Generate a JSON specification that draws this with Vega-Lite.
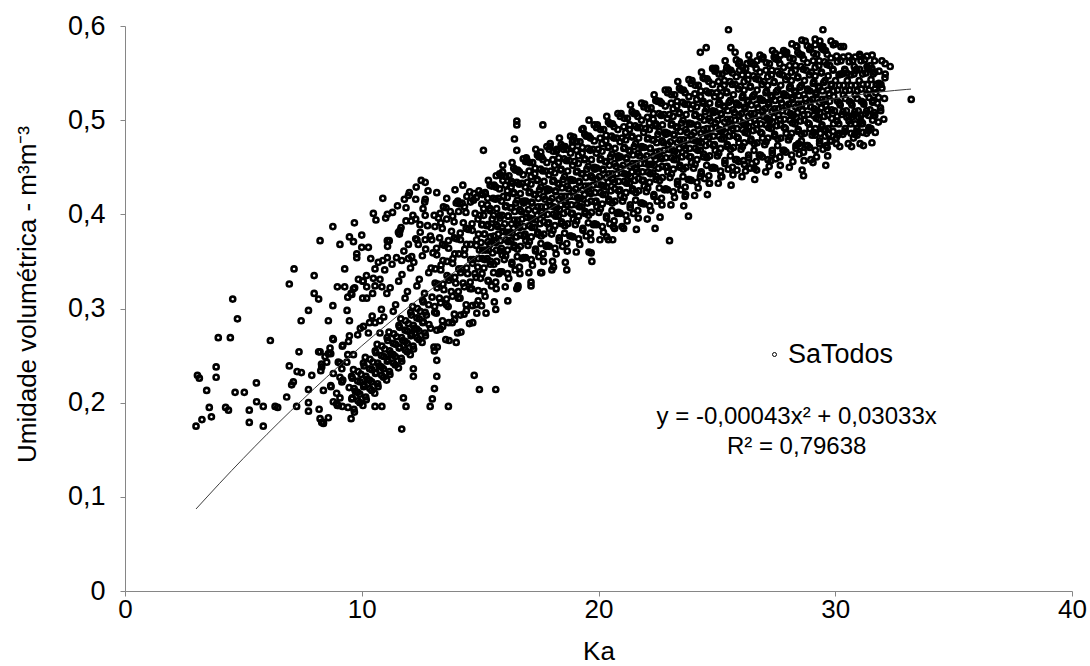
{
"$schema":"https://vega.github.io/schema/vega-lite/v6.json",
"width":947,"height":565,"autosize":"none",
"padding":{"left":125,"top":26,"right":18,"bottom":75},
"background":"white",
"config":{"view":{"stroke":null},"font":"Liberation Sans"},
"datasets":{
"fit":[{"ka":3,"u":0.0871},{"ka":4,"u":0.1144},{"ka":5,"u":0.1409},{"ka":6,"u":0.1665},{"ka":7,"u":0.1912},{"ka":8,"u":0.2151},{"ka":9,"u":0.2381},{"ka":10,"u":0.2603},{"ka":11,"u":0.2816},{"ka":12,"u":0.302},{"ka":13,"u":0.3216},{"ka":14,"u":0.3403},{"ka":15,"u":0.3582},{"ka":16,"u":0.3752},{"ka":17,"u":0.3913},{"ka":18,"u":0.4066},{"ka":19,"u":0.421},{"ka":20,"u":0.4346},{"ka":21,"u":0.4473},{"ka":22,"u":0.4591},{"ka":23,"u":0.4701},{"ka":24,"u":0.4802},{"ka":25,"u":0.4895},{"ka":26,"u":0.4979},{"ka":27,"u":0.5054},{"ka":28,"u":0.5121},{"ka":29,"u":0.5179},{"ka":30,"u":0.5229},{"ka":31,"u":0.527},{"ka":32,"u":0.5302},{"ka":33,"u":0.5326},{"ka":33.2,"u":0.533}],
"pts":[
{"ka":3.0,"u":0.175},{"ka":3.25,"u":0.182},{"ka":3.65,"u":0.185},{"ka":3.56,"u":0.195},{"ka":3.45,"u":0.213},{"ka":3.06,"u":0.229},{"ka":3.14,"u":0.226},{"ka":3.85,"u":0.238},{"ka":3.85,"u":0.227},{"ka":3.94,"u":0.269},{"ka":4.45,"u":0.269},{"ka":4.55,"u":0.31},{"ka":4.75,"u":0.289},{"ka":4.25,"u":0.195},{"ka":4.37,"u":0.192},{"ka":4.65,"u":0.211},{"ka":5.04,"u":0.211},{"ka":5.25,"u":0.192},{"ka":5.25,"u":0.179},{"ka":5.56,"u":0.201},{"ka":5.84,"u":0.196},{"ka":5.84,"u":0.175},{"ka":5.55,"u":0.221},{"ka":6.14,"u":0.266},{"ka":6.34,"u":0.196},{"ka":6.45,"u":0.195},{"ka":6.83,"u":0.206},{"ka":6.94,"u":0.326},{"ka":7.14,"u":0.342},{"ka":6.94,"u":0.239},{"ka":7.35,"u":0.254},{"ka":7.27,"u":0.233},{"ka":7.45,"u":0.232},{"ka":7.44,"u":0.287},{"ka":7.75,"u":0.298},{"ka":7.04,"u":0.219},{"ka":7.11,"u":0.222},{"ka":7.25,"u":0.196},{"ka":7.75,"u":0.214},{"ka":7.75,"u":0.2},{"ka":7.75,"u":0.191},{"ka":7.89,"u":0.229},{"ka":7.99,"u":0.335},{"ka":7.99,"u":0.316},{"ka":8.18,"u":0.31},{"ka":8.18,"u":0.254},{"ka":8.2,"u":0.193},{"ka":8.38,"u":0.213},{"ka":8.69,"u":0.218},{"ka":8.31,"u":0.179},{"ka":8.38,"u":0.179},{"ka":8.59,"u":0.184},{"ka":8.3,"u":0.241},{"ka":8.27,"u":0.234},{"ka":8.59,"u":0.287},{"ka":8.78,"u":0.303},{"ka":8.97,"u":0.323},{"ka":9.28,"u":0.323},{"ka":9.28,"u":0.342},{"ka":8.66,"u":0.258},{"ka":8.69,"u":0.252},{"ka":8.59,"u":0.252},{"ka":8.8,"u":0.267},{"ka":9.18,"u":0.26},{"ka":8.8,"u":0.201},{"ka":8.94,"u":0.199},{"ka":9.08,"u":0.205},{"ka":9.18,"u":0.196},{"ka":8.97,"u":0.197},{"ka":9.08,"u":0.242},{"ka":9.16,"u":0.236},{"ka":9.08,"u":0.227},{"ka":9.2,"u":0.224},{"ka":9.38,"u":0.298},{"ka":9.48,"u":0.287},{"ka":9.48,"u":0.271},
{"ka":8.78,"u":0.387},{"ka":8.24,"u":0.372},{"ka":9.08,"u":0.368},{"ka":9.48,"u":0.376},{"ka":9.65,"u":0.371},{"ka":9.69,"u":0.391},{"ka":9.79,"u":0.358},{"ka":9.79,"u":0.354},{"ka":10.0,"u":0.378},{"ka":10.0,"u":0.365},{"ka":10.28,"u":0.365},{"ka":10.38,"u":0.353},{"ka":10.49,"u":0.401},{"ka":10.6,"u":0.394},{"ka":10.89,"u":0.417},{"ka":11.08,"u":0.4},{"ka":11.08,"u":0.372},{"ka":10.89,"u":0.351},{"ka":11.08,"u":0.354},{"ka":9.65,"u":0.321},{"ka":9.41,"u":0.312},{"ka":9.55,"u":0.316},{"ka":9.86,"u":0.331},{"ka":10.04,"u":0.329},{"ka":10.21,"u":0.323},{"ka":10.04,"u":0.311},{"ka":10.21,"u":0.311},{"ka":10.49,"u":0.332},{"ka":10.56,"u":0.324},{"ka":10.77,"u":0.331},{"ka":10.85,"u":0.323},{"ka":10.46,"u":0.316},{"ka":8.78,"u":0.268},{"ka":9.2,"u":0.261},{"ka":10.07,"u":0.281},{"ka":10.28,"u":0.274},{"ka":10.56,"u":0.285},{"ka":10.77,"u":0.287},{"ka":10.77,"u":0.274},{"ka":8.24,"u":0.254},{"ka":8.45,"u":0.249},{"ka":8.52,"u":0.243},{"ka":8.31,"u":0.238},{"ka":9.41,"u":0.251},{"ka":9.65,"u":0.251},{"ka":9.01,"u":0.243},{"ka":9.37,"u":0.243},{"ka":8.8,"u":0.231},{"ka":8.7,"u":0.217},{"ka":9.16,"u":0.222},{"ka":8.94,"u":0.21},{"ka":9.01,"u":0.197},{"ka":8.24,"u":0.183},{"ka":8.38,"u":0.178},{"ka":10.56,"u":0.196},{"ka":10.85,"u":0.196},{"ka":11.69,"u":0.172},{"ka":11.76,"u":0.205},{"ka":11.87,"u":0.196},{"ka":12.18,"u":0.236},{"ka":12.18,"u":0.228},{"ka":12.89,"u":0.196},{"ka":12.98,"u":0.204},{"ka":13.07,"u":0.255},{"ka":13.17,"u":0.245},{"ka":13.17,"u":0.228},{"ka":13.07,"u":0.215},{"ka":13.66,"u":0.196},{"ka":13.99,"u":0.264},{"ka":14.75,"u":0.229},{"ka":14.97,"u":0.214},{"ka":15.66,"u":0.214},{"ka":14.86,"u":0.295},{"ka":15.25,"u":0.295},{"ka":15.66,"u":0.299},{"ka":16.17,"u":0.308},{"ka":16.59,"u":0.322},{"ka":17.15,"u":0.328},{"ka":17.15,"u":0.324},{"ka":17.56,"u":0.338},{"ka":18.1,"u":0.344},
{"ka":12.68,"u":0.434},{"ka":11.97,"u":0.42},{"ka":11.87,"u":0.407},{"ka":12.28,"u":0.416},{"ka":12.68,"u":0.416},{"ka":13.17,"u":0.423},{"ka":13.94,"u":0.426},{"ka":14.27,"u":0.431},{"ka":13.59,"u":0.417},{"ka":13.45,"u":0.408},{"ka":13.31,"u":0.401},{"ka":11.87,"u":0.393},{"ka":12.28,"u":0.395},{"ka":12.46,"u":0.389},{"ka":12.68,"u":0.399},{"ka":11.62,"u":0.383},{"ka":11.55,"u":0.381},{"ka":12.33,"u":0.373},{"ka":12.39,"u":0.368},{"ka":12.68,"u":0.373},{"ka":12.96,"u":0.373},{"ka":11.69,"u":0.351},{"ka":11.97,"u":0.353},{"ka":12.11,"u":0.355},{"ka":15.07,"u":0.422},{"ka":15.21,"u":0.423},{"ka":15.68,"u":0.441},{"ka":15.96,"u":0.452},{"ka":15.96,"u":0.436},{"ka":16.37,"u":0.433},{"ka":14.72,"u":0.415},{"ka":14.44,"u":0.419},{"ka":13.99,"u":0.412},{"ka":14.15,"u":0.411},
{"ka":16.55,"u":0.499},{"ka":16.55,"u":0.495},{"ka":17.65,"u":0.495},{"ka":19.6,"u":0.5},{"ka":16.45,"u":0.48},{"ka":16.55,"u":0.468},{"ka":15.14,"u":0.468},{"ka":17.56,"u":0.466},{"ka":17.96,"u":0.475},{"ka":18.24,"u":0.469},{"ka":18.52,"u":0.469},{"ka":18.9,"u":0.477},{"ka":18.9,"u":0.472},{"ka":19.3,"u":0.49},{"ka":16.97,"u":0.458},{"ka":16.55,"u":0.321},{"ka":18.03,"u":0.341},{"ka":18.66,"u":0.341},{"ka":19.72,"u":0.35},{"ka":19.69,"u":0.359},{"ka":20.35,"u":0.376},{"ka":20.42,"u":0.373},{"ka":20.63,"u":0.387},{"ka":20.99,"u":0.387},{"ka":22.39,"u":0.385},{"ka":23.0,"u":0.372},{"ka":23.8,"u":0.398},{"ka":23.66,"u":0.419},
{"ka":25.49,"u":0.596},{"ka":29.48,"u":0.596},{"ka":25.59,"u":0.577},{"ka":25.77,"u":0.572},{"ka":28.17,"u":0.581},{"ka":28.38,"u":0.578},{"ka":28.59,"u":0.585},{"ka":28.73,"u":0.584},{"ka":29.15,"u":0.586},{"ka":29.15,"u":0.58},{"ka":29.48,"u":0.578},{"ka":30.0,"u":0.581},{"ka":30.24,"u":0.578},{"ka":30.35,"u":0.578},{"ka":31.03,"u":0.57},{"ka":27.46,"u":0.571},{"ka":27.68,"u":0.569},{"ka":27.89,"u":0.572},{"ka":26.27,"u":0.56},{"ka":26.69,"u":0.563},{"ka":24.89,"u":0.554},{"ka":25.39,"u":0.552},{"ka":25.96,"u":0.553},{"ka":24.3,"u":0.572},{"ka":24.55,"u":0.577},{"ka":31.97,"u":0.563},{"ka":32.11,"u":0.56},{"ka":32.32,"u":0.557},{"ka":32.11,"u":0.549},{"ka":31.73,"u":0.538},{"ka":31.48,"u":0.558},{"ka":31.55,"u":0.555},{"ka":31.34,"u":0.557},{"ka":31.03,"u":0.554},{"ka":30.84,"u":0.553},{"ka":30.8,"u":0.557},{"ka":30.49,"u":0.55},{"ka":30.35,"u":0.55},{"ka":30.21,"u":0.549},{"ka":33.21,"u":0.522},{"ka":31.41,"u":0.505},{"ka":31.62,"u":0.505},{"ka":31.51,"u":0.491},{"ka":30.92,"u":0.484},{"ka":30.77,"u":0.481},{"ka":31.13,"u":0.496},{"ka":30.84,"u":0.496},{"ka":30.98,"u":0.503},{"ka":30.7,"u":0.503},{"ka":30.49,"u":0.503},{"ka":30.04,"u":0.481},{"ka":30.1,"u":0.484},{"ka":29.72,"u":0.485},{"ka":29.62,"u":0.473},{"ka":28.97,"u":0.458},{"ka":28.66,"u":0.441},{"ka":27.28,"u":0.457},{"ka":26.41,"u":0.449},{"ka":26.58,"u":0.449},{"ka":25.17,"u":0.44},{"ka":24.69,"u":0.433},{"ka":24.3,"u":0.44},{"ka":26.13,"u":0.457},{"ka":25.85,"u":0.447},{"ka":28.52,"u":0.472},{"ka":28.45,"u":0.475},{"ka":29.15,"u":0.484},{"ka":29.37,"u":0.486},
{"ka":9.55,"u":0.183},{"ka":9.42,"u":0.195},{"ka":9.6,"u":0.205},{"ka":9.47,"u":0.216},{"ka":9.57,"u":0.228},
{"ka":9.69,"u":0.19},{"ka":9.84,"u":0.202},{"ka":9.73,"u":0.212},{"ka":9.83,"u":0.223},{"ka":9.65,"u":0.235},
{"ka":10.05,"u":0.197},{"ka":9.92,"u":0.209},{"ka":10.1,"u":0.219},{"ka":9.97,"u":0.23},{"ka":10.07,"u":0.242},
{"ka":10.19,"u":0.203},{"ka":10.34,"u":0.215},{"ka":10.23,"u":0.225},{"ka":10.33,"u":0.236},{"ka":10.15,"u":0.248},
{"ka":10.55,"u":0.21},{"ka":10.42,"u":0.222},{"ka":10.6,"u":0.232},{"ka":10.47,"u":0.243},{"ka":10.57,"u":0.255},
{"ka":10.69,"u":0.217},{"ka":10.84,"u":0.229},{"ka":10.73,"u":0.239},{"ka":10.83,"u":0.25},{"ka":10.65,"u":0.262},
{"ka":11.05,"u":0.224},{"ka":10.92,"u":0.236},{"ka":11.1,"u":0.246},{"ka":10.97,"u":0.257},{"ka":11.07,"u":0.269},
{"ka":11.19,"u":0.23},{"ka":11.34,"u":0.242},{"ka":11.23,"u":0.252},{"ka":11.33,"u":0.263},{"ka":11.15,"u":0.275},
{"ka":11.55,"u":0.237},{"ka":11.42,"u":0.249},{"ka":11.6,"u":0.259},{"ka":11.47,"u":0.27},{"ka":11.57,"u":0.282},
{"ka":11.69,"u":0.244},{"ka":11.84,"u":0.256},{"ka":11.73,"u":0.266},{"ka":11.83,"u":0.277},{"ka":11.65,"u":0.289},
{"ka":12.05,"u":0.251},{"ka":11.92,"u":0.263},{"ka":12.1,"u":0.273},{"ka":11.97,"u":0.284},{"ka":12.07,"u":0.296},
{"ka":12.19,"u":0.257},{"ka":12.34,"u":0.269},{"ka":12.23,"u":0.279},{"ka":12.33,"u":0.29},{"ka":12.15,"u":0.302},
{"ka":12.55,"u":0.264},{"ka":12.42,"u":0.276},{"ka":12.6,"u":0.286},{"ka":12.47,"u":0.297},{"ka":12.57,"u":0.309},
{"ka":12.69,"u":0.271},{"ka":12.84,"u":0.283},{"ka":12.73,"u":0.293},{"ka":12.83,"u":0.304},{"ka":12.65,"u":0.316},
{"ka":9.67,"u":0.193},{"ka":9.58,"u":0.204},{"ka":9.68,"u":0.215},{"ka":9.6,"u":0.226},
{"ka":9.92,"u":0.2},{"ka":9.83,"u":0.211},{"ka":9.93,"u":0.222},{"ka":9.85,"u":0.233},
{"ka":10.17,"u":0.206},{"ka":10.08,"u":0.217},{"ka":10.18,"u":0.228},{"ka":10.1,"u":0.239},
{"ka":10.42,"u":0.213},{"ka":10.33,"u":0.224},{"ka":10.43,"u":0.235},{"ka":10.35,"u":0.246},
{"ka":10.67,"u":0.22},{"ka":10.58,"u":0.231},{"ka":10.68,"u":0.242},{"ka":10.6,"u":0.253},
{"ka":10.92,"u":0.227},{"ka":10.83,"u":0.238},{"ka":10.93,"u":0.249},{"ka":10.85,"u":0.26},
{"ka":11.17,"u":0.233},{"ka":11.08,"u":0.244},{"ka":11.18,"u":0.255},{"ka":11.1,"u":0.266},
{"ka":11.42,"u":0.24},{"ka":11.33,"u":0.251},{"ka":11.43,"u":0.262},{"ka":11.35,"u":0.273},
{"ka":11.67,"u":0.247},{"ka":11.58,"u":0.258},{"ka":11.68,"u":0.269},{"ka":11.6,"u":0.28},
{"ka":11.92,"u":0.254},{"ka":11.83,"u":0.265},{"ka":11.93,"u":0.276},{"ka":11.85,"u":0.287},
{"ka":12.17,"u":0.26},{"ka":12.08,"u":0.271},{"ka":12.18,"u":0.282},{"ka":12.1,"u":0.293},
{"ka":12.42,"u":0.267},{"ka":12.33,"u":0.278},{"ka":12.43,"u":0.289},{"ka":12.35,"u":0.3},
{"ka":12.67,"u":0.274},{"ka":12.58,"u":0.285},{"ka":12.68,"u":0.296},{"ka":12.6,"u":0.307},
{"ka":9.44,"u":0.265},{"ka":9.58,"u":0.315},{"ka":9.83,"u":0.272},{"ka":9.7,"u":0.322},{"ka":9.94,"u":0.279},{"ka":10.06,"u":0.329},{"ka":10.33,"u":0.285},{"ka":10.2,"u":0.335},{"ka":10.44,"u":0.292},{"ka":10.56,"u":0.342},{"ka":10.83,"u":0.299},{"ka":10.7,"u":0.349},
{"ka":10.93,"u":0.291},{"ka":11.06,"u":0.316},{"ka":10.97,"u":0.341},{"ka":11.09,"u":0.366},{"ka":11.01,"u":0.396},
{"ka":11.33,"u":0.297},{"ka":11.2,"u":0.322},{"ka":11.28,"u":0.347},{"ka":11.16,"u":0.372},{"ka":11.3,"u":0.402},
{"ka":11.43,"u":0.304},{"ka":11.56,"u":0.329},{"ka":11.47,"u":0.354},{"ka":11.59,"u":0.379},{"ka":11.51,"u":0.409},
{"ka":11.83,"u":0.311},{"ka":11.7,"u":0.336},{"ka":11.78,"u":0.361},{"ka":11.66,"u":0.386},{"ka":11.8,"u":0.416},
{"ka":11.93,"u":0.318},{"ka":12.06,"u":0.343},{"ka":11.97,"u":0.368},{"ka":12.09,"u":0.393},{"ka":12.01,"u":0.423},
{"ka":12.33,"u":0.324},{"ka":12.2,"u":0.349},{"ka":12.28,"u":0.374},{"ka":12.16,"u":0.399},{"ka":12.3,"u":0.429},
{"ka":12.43,"u":0.331},{"ka":12.56,"u":0.356},{"ka":12.47,"u":0.381},{"ka":12.59,"u":0.406},{"ka":12.51,"u":0.436},
{"ka":12.83,"u":0.338},{"ka":12.7,"u":0.363},{"ka":12.78,"u":0.388},{"ka":12.66,"u":0.413},{"ka":12.8,"u":0.425},
{"ka":13.05,"u":0.259},{"ka":12.91,"u":0.279},{"ka":13.08,"u":0.296},{"ka":12.97,"u":0.312},{"ka":13.1,"u":0.327},{"ka":12.93,"u":0.343},{"ka":13.01,"u":0.359},{"ka":12.9,"u":0.377},{"ka":13.06,"u":0.399},
{"ka":13.19,"u":0.259},{"ka":13.32,"u":0.278},{"ka":13.15,"u":0.295},{"ka":13.28,"u":0.311},{"ka":13.21,"u":0.326},{"ka":13.34,"u":0.341},{"ka":13.17,"u":0.357},{"ka":13.29,"u":0.375},{"ka":13.24,"u":0.396},
{"ka":13.55,"u":0.267},{"ka":13.41,"u":0.287},{"ka":13.58,"u":0.304},{"ka":13.47,"u":0.32},{"ka":13.6,"u":0.335},{"ka":13.43,"u":0.351},{"ka":13.51,"u":0.367},{"ka":13.4,"u":0.385},{"ka":13.56,"u":0.407},
{"ka":13.69,"u":0.266},{"ka":13.82,"u":0.285},{"ka":13.65,"u":0.302},{"ka":13.78,"u":0.318},{"ka":13.71,"u":0.333},{"ka":13.84,"u":0.348},{"ka":13.67,"u":0.364},{"ka":13.79,"u":0.382},{"ka":13.74,"u":0.403},
{"ka":14.05,"u":0.274},{"ka":13.91,"u":0.294},{"ka":14.08,"u":0.311},{"ka":13.97,"u":0.327},{"ka":14.1,"u":0.342},{"ka":13.93,"u":0.358},{"ka":14.01,"u":0.374},{"ka":13.9,"u":0.392},{"ka":14.06,"u":0.414},
{"ka":14.19,"u":0.275},{"ka":14.32,"u":0.294},{"ka":14.15,"u":0.311},{"ka":14.28,"u":0.327},{"ka":14.21,"u":0.342},{"ka":14.34,"u":0.357},{"ka":14.17,"u":0.373},{"ka":14.29,"u":0.391},{"ka":14.24,"u":0.412},
{"ka":14.55,"u":0.284},{"ka":14.41,"u":0.304},{"ka":14.58,"u":0.321},{"ka":14.47,"u":0.337},{"ka":14.6,"u":0.352},{"ka":14.43,"u":0.368},{"ka":14.51,"u":0.384},{"ka":14.4,"u":0.402},{"ka":14.56,"u":0.424},
{"ka":14.69,"u":0.285},{"ka":14.82,"u":0.304},{"ka":14.65,"u":0.321},{"ka":14.78,"u":0.337},{"ka":14.71,"u":0.352},{"ka":14.84,"u":0.367},{"ka":14.67,"u":0.383},{"ka":14.79,"u":0.401},{"ka":14.74,"u":0.422},
{"ka":13.17,"u":0.277},{"ka":13.08,"u":0.302},{"ka":13.18,"u":0.322},{"ka":13.1,"u":0.342},{"ka":13.16,"u":0.364},{"ka":13.09,"u":0.387},
{"ka":13.42,"u":0.281},{"ka":13.33,"u":0.306},{"ka":13.43,"u":0.326},{"ka":13.35,"u":0.346},{"ka":13.41,"u":0.368},{"ka":13.34,"u":0.391},
{"ka":13.67,"u":0.285},{"ka":13.58,"u":0.31},{"ka":13.68,"u":0.33},{"ka":13.6,"u":0.35},{"ka":13.66,"u":0.372},{"ka":13.59,"u":0.395},
{"ka":13.92,"u":0.288},{"ka":13.83,"u":0.313},{"ka":13.93,"u":0.333},{"ka":13.85,"u":0.353},{"ka":13.91,"u":0.375},{"ka":13.84,"u":0.398},
{"ka":14.17,"u":0.293},{"ka":14.08,"u":0.318},{"ka":14.18,"u":0.338},{"ka":14.1,"u":0.358},{"ka":14.16,"u":0.38},{"ka":14.09,"u":0.403},
{"ka":14.42,"u":0.298},{"ka":14.33,"u":0.323},{"ka":14.43,"u":0.343},{"ka":14.35,"u":0.363},{"ka":14.41,"u":0.385},{"ka":14.34,"u":0.408},
{"ka":14.67,"u":0.303},{"ka":14.58,"u":0.328},{"ka":14.68,"u":0.348},{"ka":14.6,"u":0.368},{"ka":14.66,"u":0.39},{"ka":14.59,"u":0.413},
{"ka":14.92,"u":0.308},{"ka":14.83,"u":0.333},{"ka":14.93,"u":0.353},{"ka":14.85,"u":0.373},{"ka":14.91,"u":0.395},{"ka":14.84,"u":0.418},
{"ka":15.06,"u":0.303},{"ka":14.92,"u":0.319},{"ka":15.02,"u":0.332},{"ka":14.9,"u":0.344},{"ka":15.09,"u":0.353},{"ka":14.97,"u":0.362},{"ka":15.04,"u":0.37},{"ka":14.93,"u":0.379},{"ka":15.1,"u":0.389},{"ka":14.99,"u":0.399},{"ka":15.07,"u":0.411},{"ka":14.95,"u":0.425},
{"ka":15.21,"u":0.313},{"ka":15.34,"u":0.33},{"ka":15.16,"u":0.343},{"ka":15.3,"u":0.353},{"ka":15.23,"u":0.362},{"ka":15.33,"u":0.371},{"ka":15.19,"u":0.379},{"ka":15.28,"u":0.388},{"ka":15.15,"u":0.399},{"ka":15.31,"u":0.41},{"ka":15.22,"u":0.422},{"ka":15.35,"u":0.436},
{"ka":15.6,"u":0.307},{"ka":15.48,"u":0.324},{"ka":15.57,"u":0.338},{"ka":15.44,"u":0.35},{"ka":15.53,"u":0.359},{"ka":15.41,"u":0.368},{"ka":15.58,"u":0.377},{"ka":15.46,"u":0.386},{"ka":15.51,"u":0.395},{"ka":15.42,"u":0.406},{"ka":15.55,"u":0.417},{"ka":15.49,"u":0.43},
{"ka":15.68,"u":0.321},{"ka":15.79,"u":0.337},{"ka":15.7,"u":0.35},{"ka":15.85,"u":0.361},{"ka":15.67,"u":0.37},{"ka":15.77,"u":0.379},{"ka":15.74,"u":0.387},{"ka":15.84,"u":0.396},{"ka":15.7,"u":0.406},{"ka":15.77,"u":0.417},{"ka":15.66,"u":0.429},{"ka":15.82,"u":0.443},
{"ka":16.06,"u":0.323},{"ka":15.92,"u":0.339},{"ka":16.02,"u":0.352},{"ka":15.9,"u":0.364},{"ka":16.09,"u":0.373},{"ka":15.97,"u":0.382},{"ka":16.04,"u":0.39},{"ka":15.93,"u":0.399},{"ka":16.1,"u":0.409},{"ka":15.99,"u":0.419},{"ka":16.07,"u":0.431},{"ka":15.95,"u":0.445},
{"ka":16.21,"u":0.332},{"ka":16.34,"u":0.349},{"ka":16.16,"u":0.362},{"ka":16.3,"u":0.372},{"ka":16.23,"u":0.381},{"ka":16.33,"u":0.39},{"ka":16.19,"u":0.398},{"ka":16.28,"u":0.407},{"ka":16.15,"u":0.418},{"ka":16.31,"u":0.429},{"ka":16.22,"u":0.441},{"ka":16.35,"u":0.455},
{"ka":16.6,"u":0.324},{"ka":16.48,"u":0.341},{"ka":16.57,"u":0.355},{"ka":16.44,"u":0.367},{"ka":16.53,"u":0.376},{"ka":16.41,"u":0.385},{"ka":16.58,"u":0.394},{"ka":16.46,"u":0.403},{"ka":16.51,"u":0.412},{"ka":16.42,"u":0.423},{"ka":16.55,"u":0.434},{"ka":16.49,"u":0.447},
{"ka":16.68,"u":0.337},{"ka":16.79,"u":0.353},{"ka":16.7,"u":0.366},{"ka":16.85,"u":0.377},{"ka":16.67,"u":0.386},{"ka":16.77,"u":0.395},{"ka":16.74,"u":0.403},{"ka":16.84,"u":0.412},{"ka":16.7,"u":0.422},{"ka":16.77,"u":0.433},{"ka":16.66,"u":0.445},{"ka":16.82,"u":0.459},
{"ka":17.06,"u":0.338},{"ka":16.92,"u":0.354},{"ka":17.02,"u":0.367},{"ka":16.9,"u":0.379},{"ka":17.09,"u":0.388},{"ka":16.97,"u":0.397},{"ka":17.04,"u":0.405},{"ka":16.93,"u":0.414},{"ka":17.1,"u":0.424},{"ka":16.99,"u":0.434},{"ka":17.07,"u":0.446},{"ka":16.95,"u":0.46},
{"ka":17.21,"u":0.346},{"ka":17.34,"u":0.363},{"ka":17.16,"u":0.376},{"ka":17.3,"u":0.386},{"ka":17.23,"u":0.395},{"ka":17.33,"u":0.404},{"ka":17.19,"u":0.412},{"ka":17.28,"u":0.421},{"ka":17.15,"u":0.432},{"ka":17.31,"u":0.443},{"ka":17.22,"u":0.455},{"ka":17.35,"u":0.469},
{"ka":17.6,"u":0.338},{"ka":17.48,"u":0.355},{"ka":17.57,"u":0.369},{"ka":17.44,"u":0.381},{"ka":17.53,"u":0.39},{"ka":17.41,"u":0.399},{"ka":17.58,"u":0.408},{"ka":17.46,"u":0.417},{"ka":17.51,"u":0.426},{"ka":17.42,"u":0.437},{"ka":17.55,"u":0.448},{"ka":17.49,"u":0.461},
{"ka":17.68,"u":0.35},{"ka":17.79,"u":0.366},{"ka":17.7,"u":0.379},{"ka":17.85,"u":0.39},{"ka":17.67,"u":0.399},{"ka":17.77,"u":0.408},{"ka":17.74,"u":0.416},{"ka":17.84,"u":0.425},{"ka":17.7,"u":0.435},{"ka":17.77,"u":0.446},{"ka":17.66,"u":0.458},{"ka":17.82,"u":0.472},
{"ka":18.06,"u":0.35},{"ka":17.92,"u":0.366},{"ka":18.02,"u":0.379},{"ka":17.9,"u":0.391},{"ka":18.09,"u":0.4},{"ka":17.97,"u":0.409},{"ka":18.04,"u":0.417},{"ka":17.93,"u":0.426},{"ka":18.1,"u":0.436},{"ka":17.99,"u":0.446},{"ka":18.07,"u":0.458},{"ka":17.95,"u":0.472},
{"ka":18.21,"u":0.358},{"ka":18.34,"u":0.375},{"ka":18.16,"u":0.388},{"ka":18.3,"u":0.398},{"ka":18.23,"u":0.407},{"ka":18.33,"u":0.416},{"ka":18.19,"u":0.424},{"ka":18.28,"u":0.433},{"ka":18.15,"u":0.444},{"ka":18.31,"u":0.455},{"ka":18.22,"u":0.467},{"ka":18.35,"u":0.481},
{"ka":18.6,"u":0.349},{"ka":18.48,"u":0.366},{"ka":18.57,"u":0.38},{"ka":18.44,"u":0.392},{"ka":18.53,"u":0.401},{"ka":18.41,"u":0.41},{"ka":18.58,"u":0.419},{"ka":18.46,"u":0.428},{"ka":18.51,"u":0.437},{"ka":18.42,"u":0.448},{"ka":18.55,"u":0.459},{"ka":18.49,"u":0.472},
{"ka":18.68,"u":0.361},{"ka":18.79,"u":0.377},{"ka":18.7,"u":0.39},{"ka":18.85,"u":0.401},{"ka":18.67,"u":0.41},{"ka":18.77,"u":0.419},{"ka":18.74,"u":0.427},{"ka":18.84,"u":0.436},{"ka":18.7,"u":0.446},{"ka":18.77,"u":0.457},{"ka":18.66,"u":0.469},{"ka":18.82,"u":0.483},
{"ka":19.06,"u":0.36},{"ka":18.92,"u":0.376},{"ka":19.02,"u":0.389},{"ka":18.9,"u":0.401},{"ka":19.09,"u":0.41},{"ka":18.97,"u":0.419},{"ka":19.04,"u":0.427},{"ka":18.93,"u":0.436},{"ka":19.1,"u":0.446},{"ka":18.99,"u":0.456},{"ka":19.07,"u":0.468},{"ka":18.95,"u":0.482},
{"ka":19.21,"u":0.368},{"ka":19.34,"u":0.385},{"ka":19.16,"u":0.398},{"ka":19.3,"u":0.408},{"ka":19.23,"u":0.417},{"ka":19.33,"u":0.426},{"ka":19.19,"u":0.434},{"ka":19.28,"u":0.443},{"ka":19.15,"u":0.454},{"ka":19.31,"u":0.465},{"ka":19.22,"u":0.477},{"ka":19.35,"u":0.491},
{"ka":19.6,"u":0.36},{"ka":19.48,"u":0.377},{"ka":19.57,"u":0.391},{"ka":19.44,"u":0.403},{"ka":19.53,"u":0.412},{"ka":19.41,"u":0.421},{"ka":19.58,"u":0.43},{"ka":19.46,"u":0.439},{"ka":19.51,"u":0.448},{"ka":19.42,"u":0.459},{"ka":19.55,"u":0.47},{"ka":19.49,"u":0.483},
{"ka":19.68,"u":0.373},{"ka":19.79,"u":0.389},{"ka":19.7,"u":0.402},{"ka":19.85,"u":0.413},{"ka":19.67,"u":0.422},{"ka":19.77,"u":0.431},{"ka":19.74,"u":0.439},{"ka":19.84,"u":0.448},{"ka":19.7,"u":0.458},{"ka":19.77,"u":0.469},{"ka":19.66,"u":0.481},{"ka":19.82,"u":0.495},
{"ka":20.06,"u":0.373},{"ka":19.92,"u":0.389},{"ka":20.02,"u":0.402},{"ka":19.9,"u":0.414},{"ka":20.09,"u":0.423},{"ka":19.97,"u":0.432},{"ka":20.04,"u":0.44},{"ka":19.93,"u":0.449},{"ka":20.1,"u":0.459},{"ka":19.99,"u":0.469},{"ka":20.07,"u":0.481},{"ka":19.95,"u":0.495},
{"ka":20.21,"u":0.381},{"ka":20.34,"u":0.398},{"ka":20.16,"u":0.411},{"ka":20.3,"u":0.421},{"ka":20.23,"u":0.43},{"ka":20.33,"u":0.439},{"ka":20.19,"u":0.447},{"ka":20.28,"u":0.456},{"ka":20.15,"u":0.467},{"ka":20.31,"u":0.478},{"ka":20.22,"u":0.49},{"ka":20.35,"u":0.504},
{"ka":20.6,"u":0.373},{"ka":20.48,"u":0.39},{"ka":20.57,"u":0.404},{"ka":20.44,"u":0.416},{"ka":20.53,"u":0.425},{"ka":20.41,"u":0.434},{"ka":20.58,"u":0.443},{"ka":20.46,"u":0.452},{"ka":20.51,"u":0.461},{"ka":20.42,"u":0.472},{"ka":20.55,"u":0.483},{"ka":20.49,"u":0.496},
{"ka":20.68,"u":0.385},{"ka":20.79,"u":0.401},{"ka":20.7,"u":0.414},{"ka":20.85,"u":0.425},{"ka":20.67,"u":0.434},{"ka":20.77,"u":0.443},{"ka":20.74,"u":0.451},{"ka":20.84,"u":0.46},{"ka":20.7,"u":0.47},{"ka":20.77,"u":0.481},{"ka":20.66,"u":0.493},{"ka":20.82,"u":0.507},
{"ka":21.06,"u":0.385},{"ka":20.92,"u":0.401},{"ka":21.02,"u":0.414},{"ka":20.9,"u":0.426},{"ka":21.09,"u":0.435},{"ka":20.97,"u":0.444},{"ka":21.04,"u":0.452},{"ka":20.93,"u":0.461},{"ka":21.1,"u":0.471},{"ka":20.99,"u":0.481},{"ka":21.07,"u":0.493},{"ka":20.95,"u":0.507},
{"ka":21.21,"u":0.393},{"ka":21.34,"u":0.41},{"ka":21.16,"u":0.423},{"ka":21.3,"u":0.433},{"ka":21.23,"u":0.442},{"ka":21.33,"u":0.451},{"ka":21.19,"u":0.459},{"ka":21.28,"u":0.468},{"ka":21.15,"u":0.479},{"ka":21.31,"u":0.49},{"ka":21.22,"u":0.502},{"ka":21.35,"u":0.516},
{"ka":21.6,"u":0.384},{"ka":21.48,"u":0.401},{"ka":21.57,"u":0.415},{"ka":21.44,"u":0.427},{"ka":21.53,"u":0.436},{"ka":21.41,"u":0.445},{"ka":21.58,"u":0.454},{"ka":21.46,"u":0.463},{"ka":21.51,"u":0.472},{"ka":21.42,"u":0.483},{"ka":21.55,"u":0.494},{"ka":21.49,"u":0.507},
{"ka":21.68,"u":0.396},{"ka":21.79,"u":0.412},{"ka":21.7,"u":0.425},{"ka":21.85,"u":0.436},{"ka":21.67,"u":0.445},{"ka":21.77,"u":0.454},{"ka":21.74,"u":0.462},{"ka":21.84,"u":0.471},{"ka":21.7,"u":0.481},{"ka":21.77,"u":0.492},{"ka":21.66,"u":0.504},{"ka":21.82,"u":0.518},
{"ka":22.06,"u":0.395},{"ka":21.92,"u":0.411},{"ka":22.02,"u":0.424},{"ka":21.9,"u":0.436},{"ka":22.09,"u":0.445},{"ka":21.97,"u":0.454},{"ka":22.04,"u":0.462},{"ka":21.93,"u":0.471},{"ka":22.1,"u":0.481},{"ka":21.99,"u":0.491},{"ka":22.07,"u":0.503},{"ka":21.95,"u":0.517},
{"ka":22.21,"u":0.404},{"ka":22.34,"u":0.421},{"ka":22.16,"u":0.434},{"ka":22.3,"u":0.444},{"ka":22.23,"u":0.453},{"ka":22.33,"u":0.462},{"ka":22.19,"u":0.47},{"ka":22.28,"u":0.479},{"ka":22.15,"u":0.49},{"ka":22.31,"u":0.501},{"ka":22.22,"u":0.513},{"ka":22.35,"u":0.527},
{"ka":22.6,"u":0.397},{"ka":22.48,"u":0.414},{"ka":22.57,"u":0.428},{"ka":22.44,"u":0.44},{"ka":22.53,"u":0.449},{"ka":22.41,"u":0.458},{"ka":22.58,"u":0.467},{"ka":22.46,"u":0.476},{"ka":22.51,"u":0.485},{"ka":22.42,"u":0.496},{"ka":22.55,"u":0.507},{"ka":22.49,"u":0.52},
{"ka":22.68,"u":0.41},{"ka":22.79,"u":0.426},{"ka":22.7,"u":0.439},{"ka":22.85,"u":0.45},{"ka":22.67,"u":0.459},{"ka":22.77,"u":0.468},{"ka":22.74,"u":0.476},{"ka":22.84,"u":0.485},{"ka":22.7,"u":0.495},{"ka":22.77,"u":0.506},{"ka":22.66,"u":0.518},{"ka":22.82,"u":0.532},
{"ka":23.06,"u":0.41},{"ka":22.92,"u":0.426},{"ka":23.02,"u":0.439},{"ka":22.9,"u":0.451},{"ka":23.09,"u":0.46},{"ka":22.97,"u":0.469},{"ka":23.04,"u":0.477},{"ka":22.93,"u":0.486},{"ka":23.1,"u":0.496},{"ka":22.99,"u":0.506},{"ka":23.07,"u":0.518},{"ka":22.95,"u":0.532},
{"ka":23.21,"u":0.418},{"ka":23.34,"u":0.435},{"ka":23.16,"u":0.448},{"ka":23.3,"u":0.458},{"ka":23.23,"u":0.467},{"ka":23.33,"u":0.476},{"ka":23.19,"u":0.484},{"ka":23.28,"u":0.493},{"ka":23.15,"u":0.504},{"ka":23.31,"u":0.515},{"ka":23.22,"u":0.527},{"ka":23.35,"u":0.541},
{"ka":23.6,"u":0.409},{"ka":23.48,"u":0.426},{"ka":23.57,"u":0.44},{"ka":23.44,"u":0.452},{"ka":23.53,"u":0.461},{"ka":23.41,"u":0.47},{"ka":23.58,"u":0.479},{"ka":23.46,"u":0.488},{"ka":23.51,"u":0.497},{"ka":23.42,"u":0.508},{"ka":23.55,"u":0.519},{"ka":23.49,"u":0.532},
{"ka":23.68,"u":0.421},{"ka":23.79,"u":0.437},{"ka":23.7,"u":0.45},{"ka":23.85,"u":0.461},{"ka":23.67,"u":0.47},{"ka":23.77,"u":0.479},{"ka":23.74,"u":0.487},{"ka":23.84,"u":0.496},{"ka":23.7,"u":0.506},{"ka":23.77,"u":0.517},{"ka":23.66,"u":0.529},{"ka":23.82,"u":0.543},
{"ka":24.06,"u":0.42},{"ka":23.92,"u":0.436},{"ka":24.02,"u":0.449},{"ka":23.9,"u":0.461},{"ka":24.09,"u":0.47},{"ka":23.97,"u":0.479},{"ka":24.04,"u":0.487},{"ka":23.93,"u":0.496},{"ka":24.1,"u":0.506},{"ka":23.99,"u":0.516},{"ka":24.07,"u":0.528},{"ka":23.95,"u":0.542},
{"ka":24.21,"u":0.428},{"ka":24.34,"u":0.445},{"ka":24.16,"u":0.458},{"ka":24.3,"u":0.468},{"ka":24.23,"u":0.477},{"ka":24.33,"u":0.486},{"ka":24.19,"u":0.494},{"ka":24.28,"u":0.503},{"ka":24.15,"u":0.514},{"ka":24.31,"u":0.525},{"ka":24.22,"u":0.537},{"ka":24.35,"u":0.551},
{"ka":24.6,"u":0.421},{"ka":24.48,"u":0.438},{"ka":24.57,"u":0.452},{"ka":24.44,"u":0.464},{"ka":24.53,"u":0.473},{"ka":24.41,"u":0.482},{"ka":24.58,"u":0.491},{"ka":24.46,"u":0.5},{"ka":24.51,"u":0.509},{"ka":24.42,"u":0.52},{"ka":24.55,"u":0.531},{"ka":24.49,"u":0.544},
{"ka":24.68,"u":0.433},{"ka":24.79,"u":0.449},{"ka":24.7,"u":0.462},{"ka":24.85,"u":0.473},{"ka":24.67,"u":0.482},{"ka":24.77,"u":0.491},{"ka":24.74,"u":0.499},{"ka":24.84,"u":0.508},{"ka":24.7,"u":0.518},{"ka":24.77,"u":0.529},{"ka":24.66,"u":0.541},{"ka":24.82,"u":0.555},
{"ka":25.06,"u":0.433},{"ka":24.92,"u":0.449},{"ka":25.02,"u":0.462},{"ka":24.9,"u":0.474},{"ka":25.09,"u":0.483},{"ka":24.97,"u":0.492},{"ka":25.04,"u":0.5},{"ka":24.93,"u":0.509},{"ka":25.1,"u":0.519},{"ka":24.99,"u":0.529},{"ka":25.07,"u":0.541},{"ka":24.95,"u":0.555},
{"ka":25.21,"u":0.44},{"ka":25.34,"u":0.457},{"ka":25.16,"u":0.47},{"ka":25.3,"u":0.48},{"ka":25.23,"u":0.489},{"ka":25.33,"u":0.498},{"ka":25.19,"u":0.506},{"ka":25.28,"u":0.515},{"ka":25.15,"u":0.526},{"ka":25.31,"u":0.537},{"ka":25.22,"u":0.549},{"ka":25.35,"u":0.563},
{"ka":25.6,"u":0.431},{"ka":25.48,"u":0.448},{"ka":25.57,"u":0.462},{"ka":25.44,"u":0.474},{"ka":25.53,"u":0.483},{"ka":25.41,"u":0.492},{"ka":25.58,"u":0.501},{"ka":25.46,"u":0.51},{"ka":25.51,"u":0.519},{"ka":25.42,"u":0.53},{"ka":25.55,"u":0.541},{"ka":25.49,"u":0.554},
{"ka":25.68,"u":0.442},{"ka":25.79,"u":0.458},{"ka":25.7,"u":0.471},{"ka":25.85,"u":0.482},{"ka":25.67,"u":0.491},{"ka":25.77,"u":0.5},{"ka":25.74,"u":0.508},{"ka":25.84,"u":0.517},{"ka":25.7,"u":0.527},{"ka":25.77,"u":0.538},{"ka":25.66,"u":0.55},{"ka":25.82,"u":0.564},
{"ka":26.06,"u":0.44},{"ka":25.92,"u":0.456},{"ka":26.02,"u":0.469},{"ka":25.9,"u":0.481},{"ka":26.09,"u":0.49},{"ka":25.97,"u":0.499},{"ka":26.04,"u":0.507},{"ka":25.93,"u":0.516},{"ka":26.1,"u":0.526},{"ka":25.99,"u":0.536},{"ka":26.07,"u":0.548},{"ka":25.95,"u":0.562},
{"ka":26.21,"u":0.446},{"ka":26.34,"u":0.463},{"ka":26.16,"u":0.476},{"ka":26.3,"u":0.486},{"ka":26.23,"u":0.495},{"ka":26.33,"u":0.504},{"ka":26.19,"u":0.512},{"ka":26.28,"u":0.521},{"ka":26.15,"u":0.532},{"ka":26.31,"u":0.543},{"ka":26.22,"u":0.555},{"ka":26.35,"u":0.569},
{"ka":26.6,"u":0.437},{"ka":26.48,"u":0.454},{"ka":26.57,"u":0.468},{"ka":26.44,"u":0.48},{"ka":26.53,"u":0.489},{"ka":26.41,"u":0.498},{"ka":26.58,"u":0.507},{"ka":26.46,"u":0.516},{"ka":26.51,"u":0.525},{"ka":26.42,"u":0.536},{"ka":26.55,"u":0.547},{"ka":26.49,"u":0.56},
{"ka":26.68,"u":0.447},{"ka":26.79,"u":0.463},{"ka":26.7,"u":0.476},{"ka":26.85,"u":0.487},{"ka":26.67,"u":0.496},{"ka":26.77,"u":0.505},{"ka":26.74,"u":0.513},{"ka":26.84,"u":0.522},{"ka":26.7,"u":0.532},{"ka":26.77,"u":0.543},{"ka":26.66,"u":0.555},{"ka":26.82,"u":0.569},
{"ka":27.06,"u":0.445},{"ka":26.92,"u":0.461},{"ka":27.02,"u":0.474},{"ka":26.9,"u":0.486},{"ka":27.09,"u":0.495},{"ka":26.97,"u":0.504},{"ka":27.04,"u":0.512},{"ka":26.93,"u":0.521},{"ka":27.1,"u":0.531},{"ka":26.99,"u":0.541},{"ka":27.07,"u":0.553},{"ka":26.95,"u":0.567},
{"ka":27.21,"u":0.451},{"ka":27.34,"u":0.468},{"ka":27.16,"u":0.481},{"ka":27.3,"u":0.491},{"ka":27.23,"u":0.5},{"ka":27.33,"u":0.509},{"ka":27.19,"u":0.517},{"ka":27.28,"u":0.526},{"ka":27.15,"u":0.537},{"ka":27.31,"u":0.548},{"ka":27.22,"u":0.56},{"ka":27.35,"u":0.574},
{"ka":27.6,"u":0.442},{"ka":27.48,"u":0.459},{"ka":27.57,"u":0.473},{"ka":27.44,"u":0.485},{"ka":27.53,"u":0.494},{"ka":27.41,"u":0.503},{"ka":27.58,"u":0.512},{"ka":27.46,"u":0.521},{"ka":27.51,"u":0.53},{"ka":27.42,"u":0.541},{"ka":27.55,"u":0.552},{"ka":27.49,"u":0.565},
{"ka":27.68,"u":0.452},{"ka":27.79,"u":0.468},{"ka":27.7,"u":0.481},{"ka":27.85,"u":0.492},{"ka":27.67,"u":0.501},{"ka":27.77,"u":0.51},{"ka":27.74,"u":0.518},{"ka":27.84,"u":0.527},{"ka":27.7,"u":0.537},{"ka":27.77,"u":0.548},{"ka":27.66,"u":0.56},{"ka":27.82,"u":0.574},
{"ka":28.06,"u":0.45},{"ka":27.92,"u":0.466},{"ka":28.02,"u":0.479},{"ka":27.9,"u":0.491},{"ka":28.09,"u":0.5},{"ka":27.97,"u":0.509},{"ka":28.04,"u":0.517},{"ka":27.93,"u":0.526},{"ka":28.1,"u":0.536},{"ka":27.99,"u":0.546},{"ka":28.07,"u":0.558},{"ka":27.95,"u":0.572},
{"ka":28.21,"u":0.456},{"ka":28.34,"u":0.473},{"ka":28.16,"u":0.486},{"ka":28.3,"u":0.496},{"ka":28.23,"u":0.505},{"ka":28.33,"u":0.514},{"ka":28.19,"u":0.522},{"ka":28.28,"u":0.531},{"ka":28.15,"u":0.542},{"ka":28.31,"u":0.553},{"ka":28.22,"u":0.565},{"ka":28.35,"u":0.579},
{"ka":28.6,"u":0.447},{"ka":28.48,"u":0.464},{"ka":28.57,"u":0.478},{"ka":28.44,"u":0.49},{"ka":28.53,"u":0.499},{"ka":28.41,"u":0.508},{"ka":28.58,"u":0.517},{"ka":28.46,"u":0.526},{"ka":28.51,"u":0.535},{"ka":28.42,"u":0.546},{"ka":28.55,"u":0.557},{"ka":28.49,"u":0.57},
{"ka":28.68,"u":0.457},{"ka":28.79,"u":0.473},{"ka":28.7,"u":0.486},{"ka":28.85,"u":0.497},{"ka":28.67,"u":0.506},{"ka":28.77,"u":0.515},{"ka":28.74,"u":0.523},{"ka":28.84,"u":0.532},{"ka":28.7,"u":0.542},{"ka":28.77,"u":0.553},{"ka":28.66,"u":0.565},{"ka":28.82,"u":0.579},
{"ka":29.06,"u":0.455},{"ka":28.92,"u":0.471},{"ka":29.02,"u":0.484},{"ka":28.9,"u":0.496},{"ka":29.09,"u":0.505},{"ka":28.97,"u":0.514},{"ka":29.04,"u":0.522},{"ka":28.93,"u":0.531},{"ka":29.1,"u":0.541},{"ka":28.99,"u":0.551},{"ka":29.07,"u":0.563},{"ka":28.95,"u":0.577},
{"ka":29.21,"u":0.461},{"ka":29.34,"u":0.478},{"ka":29.16,"u":0.491},{"ka":29.3,"u":0.501},{"ka":29.23,"u":0.51},{"ka":29.33,"u":0.519},{"ka":29.19,"u":0.527},{"ka":29.28,"u":0.536},{"ka":29.15,"u":0.547},{"ka":29.31,"u":0.558},{"ka":29.22,"u":0.57},{"ka":29.35,"u":0.584},
{"ka":29.6,"u":0.452},{"ka":29.48,"u":0.469},{"ka":29.57,"u":0.483},{"ka":29.44,"u":0.495},{"ka":29.53,"u":0.504},{"ka":29.41,"u":0.513},{"ka":29.58,"u":0.522},{"ka":29.46,"u":0.531},{"ka":29.51,"u":0.54},{"ka":29.42,"u":0.551},{"ka":29.55,"u":0.562},{"ka":29.49,"u":0.575},
{"ka":29.68,"u":0.462},{"ka":29.79,"u":0.478},{"ka":29.7,"u":0.491},{"ka":29.85,"u":0.502},{"ka":29.67,"u":0.511},{"ka":29.77,"u":0.52},{"ka":29.74,"u":0.528},{"ka":29.84,"u":0.537},{"ka":29.7,"u":0.547},{"ka":29.77,"u":0.558},{"ka":29.66,"u":0.57},{"ka":29.82,"u":0.584},
{"ka":15.16,"u":0.318},{"ka":15.08,"u":0.337},{"ka":15.19,"u":0.352},{"ka":15.11,"u":0.362},{"ka":15.18,"u":0.379},{"ka":15.07,"u":0.389},{"ka":15.15,"u":0.406},{"ka":15.09,"u":0.421},
{"ka":15.34,"u":0.329},{"ka":15.43,"u":0.347},{"ka":15.35,"u":0.362},{"ka":15.44,"u":0.376},{"ka":15.33,"u":0.389},{"ka":15.41,"u":0.404},{"ka":15.32,"u":0.417},{"ka":15.42,"u":0.431},
{"ka":15.66,"u":0.328},{"ka":15.58,"u":0.347},{"ka":15.69,"u":0.362},{"ka":15.61,"u":0.372},{"ka":15.68,"u":0.389},{"ka":15.57,"u":0.399},{"ka":15.65,"u":0.416},{"ka":15.59,"u":0.431},
{"ka":15.84,"u":0.339},{"ka":15.93,"u":0.357},{"ka":15.85,"u":0.372},{"ka":15.94,"u":0.386},{"ka":15.83,"u":0.399},{"ka":15.91,"u":0.414},{"ka":15.82,"u":0.427},{"ka":15.92,"u":0.441},
{"ka":16.16,"u":0.337},{"ka":16.08,"u":0.356},{"ka":16.19,"u":0.371},{"ka":16.11,"u":0.381},{"ka":16.18,"u":0.398},{"ka":16.07,"u":0.408},{"ka":16.15,"u":0.425},{"ka":16.09,"u":0.44},
{"ka":16.34,"u":0.347},{"ka":16.43,"u":0.365},{"ka":16.35,"u":0.38},{"ka":16.44,"u":0.394},{"ka":16.33,"u":0.407},{"ka":16.41,"u":0.422},{"ka":16.32,"u":0.435},{"ka":16.42,"u":0.449},
{"ka":16.66,"u":0.344},{"ka":16.58,"u":0.363},{"ka":16.69,"u":0.378},{"ka":16.61,"u":0.388},{"ka":16.68,"u":0.405},{"ka":16.57,"u":0.415},{"ka":16.65,"u":0.432},{"ka":16.59,"u":0.447},
{"ka":16.84,"u":0.354},{"ka":16.93,"u":0.372},{"ka":16.85,"u":0.387},{"ka":16.94,"u":0.401},{"ka":16.83,"u":0.414},{"ka":16.91,"u":0.429},{"ka":16.82,"u":0.442},{"ka":16.92,"u":0.456},
{"ka":17.16,"u":0.352},{"ka":17.08,"u":0.371},{"ka":17.19,"u":0.386},{"ka":17.11,"u":0.396},{"ka":17.18,"u":0.413},{"ka":17.07,"u":0.423},{"ka":17.15,"u":0.44},{"ka":17.09,"u":0.455},
{"ka":17.34,"u":0.361},{"ka":17.43,"u":0.379},{"ka":17.35,"u":0.394},{"ka":17.44,"u":0.408},{"ka":17.33,"u":0.421},{"ka":17.41,"u":0.436},{"ka":17.32,"u":0.449},{"ka":17.42,"u":0.463},
{"ka":17.66,"u":0.358},{"ka":17.58,"u":0.377},{"ka":17.69,"u":0.392},{"ka":17.61,"u":0.402},{"ka":17.68,"u":0.419},{"ka":17.57,"u":0.429},{"ka":17.65,"u":0.446},{"ka":17.59,"u":0.461},
{"ka":17.84,"u":0.367},{"ka":17.93,"u":0.385},{"ka":17.85,"u":0.4},{"ka":17.94,"u":0.414},{"ka":17.83,"u":0.427},{"ka":17.91,"u":0.442},{"ka":17.82,"u":0.455},{"ka":17.92,"u":0.469},
{"ka":18.16,"u":0.364},{"ka":18.08,"u":0.383},{"ka":18.19,"u":0.398},{"ka":18.11,"u":0.408},{"ka":18.18,"u":0.425},{"ka":18.07,"u":0.435},{"ka":18.15,"u":0.452},{"ka":18.09,"u":0.467},
{"ka":18.34,"u":0.372},{"ka":18.43,"u":0.39},{"ka":18.35,"u":0.405},{"ka":18.44,"u":0.419},{"ka":18.33,"u":0.432},{"ka":18.41,"u":0.447},{"ka":18.32,"u":0.46},{"ka":18.42,"u":0.474},
{"ka":18.66,"u":0.369},{"ka":18.58,"u":0.388},{"ka":18.69,"u":0.403},{"ka":18.61,"u":0.413},{"ka":18.68,"u":0.43},{"ka":18.57,"u":0.44},{"ka":18.65,"u":0.457},{"ka":18.59,"u":0.472},
{"ka":18.84,"u":0.377},{"ka":18.93,"u":0.395},{"ka":18.85,"u":0.41},{"ka":18.94,"u":0.424},{"ka":18.83,"u":0.437},{"ka":18.91,"u":0.452},{"ka":18.82,"u":0.465},{"ka":18.92,"u":0.479},
{"ka":19.16,"u":0.374},{"ka":19.08,"u":0.393},{"ka":19.19,"u":0.408},{"ka":19.11,"u":0.418},{"ka":19.18,"u":0.435},{"ka":19.07,"u":0.445},{"ka":19.15,"u":0.462},{"ka":19.09,"u":0.477},
{"ka":19.34,"u":0.383},{"ka":19.43,"u":0.401},{"ka":19.35,"u":0.416},{"ka":19.44,"u":0.43},{"ka":19.33,"u":0.443},{"ka":19.41,"u":0.458},{"ka":19.32,"u":0.471},{"ka":19.42,"u":0.485},
{"ka":19.66,"u":0.38},{"ka":19.58,"u":0.399},{"ka":19.69,"u":0.414},{"ka":19.61,"u":0.424},{"ka":19.68,"u":0.441},{"ka":19.57,"u":0.451},{"ka":19.65,"u":0.468},{"ka":19.59,"u":0.483},
{"ka":19.84,"u":0.39},{"ka":19.93,"u":0.408},{"ka":19.85,"u":0.423},{"ka":19.94,"u":0.437},{"ka":19.83,"u":0.45},{"ka":19.91,"u":0.465},{"ka":19.82,"u":0.478},{"ka":19.92,"u":0.492},
{"ka":20.16,"u":0.387},{"ka":20.08,"u":0.406},{"ka":20.19,"u":0.421},{"ka":20.11,"u":0.431},{"ka":20.18,"u":0.448},{"ka":20.07,"u":0.458},{"ka":20.15,"u":0.475},{"ka":20.09,"u":0.49},
{"ka":20.34,"u":0.396},{"ka":20.43,"u":0.414},{"ka":20.35,"u":0.429},{"ka":20.44,"u":0.443},{"ka":20.33,"u":0.456},{"ka":20.41,"u":0.471},{"ka":20.32,"u":0.484},{"ka":20.42,"u":0.498},
{"ka":20.66,"u":0.393},{"ka":20.58,"u":0.412},{"ka":20.69,"u":0.427},{"ka":20.61,"u":0.437},{"ka":20.68,"u":0.454},{"ka":20.57,"u":0.464},{"ka":20.65,"u":0.481},{"ka":20.59,"u":0.496},
{"ka":20.84,"u":0.402},{"ka":20.93,"u":0.42},{"ka":20.85,"u":0.435},{"ka":20.94,"u":0.449},{"ka":20.83,"u":0.462},{"ka":20.91,"u":0.477},{"ka":20.82,"u":0.49},{"ka":20.92,"u":0.504},
{"ka":21.16,"u":0.399},{"ka":21.08,"u":0.418},{"ka":21.19,"u":0.433},{"ka":21.11,"u":0.443},{"ka":21.18,"u":0.46},{"ka":21.07,"u":0.47},{"ka":21.15,"u":0.487},{"ka":21.09,"u":0.502},
{"ka":21.34,"u":0.407},{"ka":21.43,"u":0.425},{"ka":21.35,"u":0.44},{"ka":21.44,"u":0.454},{"ka":21.33,"u":0.467},{"ka":21.41,"u":0.482},{"ka":21.32,"u":0.495},{"ka":21.42,"u":0.509},
{"ka":21.66,"u":0.404},{"ka":21.58,"u":0.423},{"ka":21.69,"u":0.438},{"ka":21.61,"u":0.448},{"ka":21.68,"u":0.465},{"ka":21.57,"u":0.475},{"ka":21.65,"u":0.492},{"ka":21.59,"u":0.507},
{"ka":21.84,"u":0.412},{"ka":21.93,"u":0.43},{"ka":21.85,"u":0.445},{"ka":21.94,"u":0.459},{"ka":21.83,"u":0.472},{"ka":21.91,"u":0.487},{"ka":21.82,"u":0.5},{"ka":21.92,"u":0.514},
{"ka":22.16,"u":0.409},{"ka":22.08,"u":0.428},{"ka":22.19,"u":0.443},{"ka":22.11,"u":0.453},{"ka":22.18,"u":0.47},{"ka":22.07,"u":0.48},{"ka":22.15,"u":0.497},{"ka":22.09,"u":0.512},
{"ka":22.34,"u":0.419},{"ka":22.43,"u":0.437},{"ka":22.35,"u":0.452},{"ka":22.44,"u":0.466},{"ka":22.33,"u":0.479},{"ka":22.41,"u":0.494},{"ka":22.32,"u":0.507},{"ka":22.42,"u":0.521},
{"ka":22.66,"u":0.417},{"ka":22.58,"u":0.436},{"ka":22.69,"u":0.451},{"ka":22.61,"u":0.461},{"ka":22.68,"u":0.478},{"ka":22.57,"u":0.488},{"ka":22.65,"u":0.505},{"ka":22.59,"u":0.52},
{"ka":22.84,"u":0.427},{"ka":22.93,"u":0.445},{"ka":22.85,"u":0.46},{"ka":22.94,"u":0.474},{"ka":22.83,"u":0.487},{"ka":22.91,"u":0.502},{"ka":22.82,"u":0.515},{"ka":22.92,"u":0.529},
{"ka":23.16,"u":0.424},{"ka":23.08,"u":0.443},{"ka":23.19,"u":0.458},{"ka":23.11,"u":0.468},{"ka":23.18,"u":0.485},{"ka":23.07,"u":0.495},{"ka":23.15,"u":0.512},{"ka":23.09,"u":0.527},
{"ka":23.34,"u":0.432},{"ka":23.43,"u":0.45},{"ka":23.35,"u":0.465},{"ka":23.44,"u":0.479},{"ka":23.33,"u":0.492},{"ka":23.41,"u":0.507},{"ka":23.32,"u":0.52},{"ka":23.42,"u":0.534},
{"ka":23.66,"u":0.429},{"ka":23.58,"u":0.448},{"ka":23.69,"u":0.463},{"ka":23.61,"u":0.473},{"ka":23.68,"u":0.49},{"ka":23.57,"u":0.5},{"ka":23.65,"u":0.517},{"ka":23.59,"u":0.532},
{"ka":23.84,"u":0.437},{"ka":23.93,"u":0.455},{"ka":23.85,"u":0.47},{"ka":23.94,"u":0.484},{"ka":23.83,"u":0.497},{"ka":23.91,"u":0.512},{"ka":23.82,"u":0.525},{"ka":23.92,"u":0.539},
{"ka":24.16,"u":0.434},{"ka":24.08,"u":0.453},{"ka":24.19,"u":0.468},{"ka":24.11,"u":0.478},{"ka":24.18,"u":0.495},{"ka":24.07,"u":0.505},{"ka":24.15,"u":0.522},{"ka":24.09,"u":0.537},
{"ka":24.34,"u":0.443},{"ka":24.43,"u":0.461},{"ka":24.35,"u":0.476},{"ka":24.44,"u":0.49},{"ka":24.33,"u":0.503},{"ka":24.41,"u":0.518},{"ka":24.32,"u":0.531},{"ka":24.42,"u":0.545},
{"ka":24.66,"u":0.441},{"ka":24.58,"u":0.46},{"ka":24.69,"u":0.475},{"ka":24.61,"u":0.485},{"ka":24.68,"u":0.502},{"ka":24.57,"u":0.512},{"ka":24.65,"u":0.529},{"ka":24.59,"u":0.544},
{"ka":24.84,"u":0.45},{"ka":24.93,"u":0.468},{"ka":24.85,"u":0.483},{"ka":24.94,"u":0.497},{"ka":24.83,"u":0.51},{"ka":24.91,"u":0.525},{"ka":24.82,"u":0.538},{"ka":24.92,"u":0.552},
{"ka":25.16,"u":0.446},{"ka":25.08,"u":0.465},{"ka":25.19,"u":0.48},{"ka":25.11,"u":0.49},{"ka":25.18,"u":0.507},{"ka":25.07,"u":0.517},{"ka":25.15,"u":0.534},{"ka":25.09,"u":0.549},
{"ka":25.34,"u":0.454},{"ka":25.43,"u":0.472},{"ka":25.35,"u":0.487},{"ka":25.44,"u":0.501},{"ka":25.33,"u":0.514},{"ka":25.41,"u":0.529},{"ka":25.32,"u":0.542},{"ka":25.42,"u":0.556},
{"ka":25.66,"u":0.45},{"ka":25.58,"u":0.469},{"ka":25.69,"u":0.484},{"ka":25.61,"u":0.494},{"ka":25.68,"u":0.511},{"ka":25.57,"u":0.521},{"ka":25.65,"u":0.538},{"ka":25.59,"u":0.553},
{"ka":25.84,"u":0.458},{"ka":25.93,"u":0.476},{"ka":25.85,"u":0.491},{"ka":25.94,"u":0.505},{"ka":25.83,"u":0.518},{"ka":25.91,"u":0.533},{"ka":25.82,"u":0.546},{"ka":25.92,"u":0.56},
{"ka":26.16,"u":0.453},{"ka":26.08,"u":0.472},{"ka":26.19,"u":0.487},{"ka":26.11,"u":0.497},{"ka":26.18,"u":0.514},{"ka":26.07,"u":0.524},{"ka":26.15,"u":0.541},{"ka":26.09,"u":0.556},
{"ka":26.34,"u":0.46},{"ka":26.43,"u":0.478},{"ka":26.35,"u":0.493},{"ka":26.44,"u":0.507},{"ka":26.33,"u":0.52},{"ka":26.41,"u":0.535},{"ka":26.32,"u":0.548},{"ka":26.42,"u":0.562},
{"ka":26.66,"u":0.456},{"ka":26.58,"u":0.475},{"ka":26.69,"u":0.49},{"ka":26.61,"u":0.5},{"ka":26.68,"u":0.517},{"ka":26.57,"u":0.527},{"ka":26.65,"u":0.544},{"ka":26.59,"u":0.559},
{"ka":26.84,"u":0.463},{"ka":26.93,"u":0.481},{"ka":26.85,"u":0.496},{"ka":26.94,"u":0.51},{"ka":26.83,"u":0.523},{"ka":26.91,"u":0.538},{"ka":26.82,"u":0.551},{"ka":26.92,"u":0.565},
{"ka":27.16,"u":0.458},{"ka":27.08,"u":0.477},{"ka":27.19,"u":0.492},{"ka":27.11,"u":0.502},{"ka":27.18,"u":0.519},{"ka":27.07,"u":0.529},{"ka":27.15,"u":0.546},{"ka":27.09,"u":0.561},
{"ka":27.34,"u":0.465},{"ka":27.43,"u":0.483},{"ka":27.35,"u":0.498},{"ka":27.44,"u":0.512},{"ka":27.33,"u":0.525},{"ka":27.41,"u":0.54},{"ka":27.32,"u":0.553},{"ka":27.42,"u":0.567},
{"ka":27.66,"u":0.461},{"ka":27.58,"u":0.48},{"ka":27.69,"u":0.495},{"ka":27.61,"u":0.505},{"ka":27.68,"u":0.522},{"ka":27.57,"u":0.532},{"ka":27.65,"u":0.549},{"ka":27.59,"u":0.564},
{"ka":27.84,"u":0.468},{"ka":27.93,"u":0.486},{"ka":27.85,"u":0.501},{"ka":27.94,"u":0.515},{"ka":27.83,"u":0.528},{"ka":27.91,"u":0.543},{"ka":27.82,"u":0.556},{"ka":27.92,"u":0.57},
{"ka":28.16,"u":0.463},{"ka":28.08,"u":0.482},{"ka":28.19,"u":0.497},{"ka":28.11,"u":0.507},{"ka":28.18,"u":0.524},{"ka":28.07,"u":0.534},{"ka":28.15,"u":0.551},{"ka":28.09,"u":0.566},
{"ka":28.34,"u":0.47},{"ka":28.43,"u":0.488},{"ka":28.35,"u":0.503},{"ka":28.44,"u":0.517},{"ka":28.33,"u":0.53},{"ka":28.41,"u":0.545},{"ka":28.32,"u":0.558},{"ka":28.42,"u":0.572},
{"ka":28.66,"u":0.466},{"ka":28.58,"u":0.485},{"ka":28.69,"u":0.5},{"ka":28.61,"u":0.51},{"ka":28.68,"u":0.527},{"ka":28.57,"u":0.537},{"ka":28.65,"u":0.554},{"ka":28.59,"u":0.569},
{"ka":28.84,"u":0.473},{"ka":28.93,"u":0.491},{"ka":28.85,"u":0.506},{"ka":28.94,"u":0.52},{"ka":28.83,"u":0.533},{"ka":28.91,"u":0.548},{"ka":28.82,"u":0.561},{"ka":28.92,"u":0.575},
{"ka":29.16,"u":0.468},{"ka":29.08,"u":0.487},{"ka":29.19,"u":0.502},{"ka":29.11,"u":0.512},{"ka":29.18,"u":0.529},{"ka":29.07,"u":0.539},{"ka":29.15,"u":0.556},{"ka":29.09,"u":0.571},
{"ka":29.34,"u":0.475},{"ka":29.43,"u":0.493},{"ka":29.35,"u":0.508},{"ka":29.44,"u":0.522},{"ka":29.33,"u":0.535},{"ka":29.41,"u":0.55},{"ka":29.32,"u":0.563},{"ka":29.42,"u":0.577},
{"ka":29.66,"u":0.471},{"ka":29.58,"u":0.49},{"ka":29.69,"u":0.505},{"ka":29.61,"u":0.515},{"ka":29.68,"u":0.532},{"ka":29.57,"u":0.542},{"ka":29.65,"u":0.559},{"ka":29.59,"u":0.574},
{"ka":29.84,"u":0.478},{"ka":29.93,"u":0.496},{"ka":29.85,"u":0.511},{"ka":29.94,"u":0.525},{"ka":29.83,"u":0.538},{"ka":29.91,"u":0.553},{"ka":29.82,"u":0.566},{"ka":29.92,"u":0.58},
{"ka":30.05,"u":0.475},{"ka":29.91,"u":0.488},{"ka":30.08,"u":0.499},{"ka":29.97,"u":0.51},{"ka":30.1,"u":0.52},{"ka":29.93,"u":0.531},{"ka":30.01,"u":0.542},{"ka":29.9,"u":0.554},{"ka":30.06,"u":0.568},
{"ka":30.19,"u":0.472},{"ka":30.32,"u":0.485},{"ka":30.15,"u":0.496},{"ka":30.28,"u":0.506},{"ka":30.21,"u":0.516},{"ka":30.34,"u":0.527},{"ka":30.17,"u":0.537},{"ka":30.29,"u":0.549},{"ka":30.24,"u":0.563},
{"ka":30.55,"u":0.475},{"ka":30.41,"u":0.488},{"ka":30.58,"u":0.499},{"ka":30.47,"u":0.51},{"ka":30.6,"u":0.52},{"ka":30.43,"u":0.531},{"ka":30.51,"u":0.542},{"ka":30.4,"u":0.554},{"ka":30.56,"u":0.568},
{"ka":30.69,"u":0.472},{"ka":30.82,"u":0.485},{"ka":30.65,"u":0.496},{"ka":30.78,"u":0.506},{"ka":30.71,"u":0.516},{"ka":30.84,"u":0.527},{"ka":30.67,"u":0.537},{"ka":30.79,"u":0.549},{"ka":30.74,"u":0.563},
{"ka":31.05,"u":0.475},{"ka":30.91,"u":0.488},{"ka":31.08,"u":0.499},{"ka":30.97,"u":0.51},{"ka":31.1,"u":0.52},{"ka":30.93,"u":0.531},{"ka":31.01,"u":0.542},{"ka":30.9,"u":0.554},{"ka":31.06,"u":0.568},
{"ka":31.19,"u":0.473},{"ka":31.32,"u":0.486},{"ka":31.15,"u":0.497},{"ka":31.28,"u":0.507},{"ka":31.21,"u":0.517},{"ka":31.34,"u":0.528},{"ka":31.17,"u":0.538},{"ka":31.29,"u":0.55},{"ka":31.24,"u":0.564},
{"ka":31.55,"u":0.476},{"ka":31.41,"u":0.489},{"ka":31.58,"u":0.5},{"ka":31.47,"u":0.511},{"ka":31.6,"u":0.521},{"ka":31.43,"u":0.532},{"ka":31.51,"u":0.543},{"ka":31.4,"u":0.555},{"ka":31.56,"u":0.569},
{"ka":31.69,"u":0.487},{"ka":31.82,"u":0.498},{"ka":31.65,"u":0.508},{"ka":31.78,"u":0.518},{"ka":31.71,"u":0.529},{"ka":31.84,"u":0.539},{"ka":31.67,"u":0.551},
{"ka":32.05,"u":0.501},{"ka":31.91,"u":0.513},{"ka":32.08,"u":0.523},{"ka":31.97,"u":0.534},{"ka":32.1,"u":0.545},
{"ka":30.17,"u":0.486},{"ka":30.08,"u":0.504},{"ka":30.18,"u":0.518},{"ka":30.1,"u":0.532},{"ka":30.16,"u":0.548},{"ka":30.09,"u":0.562},
{"ka":30.42,"u":0.491},{"ka":30.33,"u":0.509},{"ka":30.43,"u":0.523},{"ka":30.35,"u":0.537},{"ka":30.41,"u":0.553},{"ka":30.34,"u":0.567},
{"ka":30.67,"u":0.486},{"ka":30.58,"u":0.504},{"ka":30.68,"u":0.518},{"ka":30.6,"u":0.532},{"ka":30.66,"u":0.548},{"ka":30.59,"u":0.562},
{"ka":30.92,"u":0.491},{"ka":30.83,"u":0.509},{"ka":30.93,"u":0.523},{"ka":30.85,"u":0.537},{"ka":30.91,"u":0.553},{"ka":30.84,"u":0.567},
{"ka":31.17,"u":0.487},{"ka":31.08,"u":0.505},{"ka":31.18,"u":0.519},{"ka":31.1,"u":0.533},{"ka":31.16,"u":0.549},{"ka":31.09,"u":0.563},
{"ka":31.42,"u":0.492},{"ka":31.33,"u":0.51},{"ka":31.43,"u":0.524},{"ka":31.35,"u":0.538},{"ka":31.41,"u":0.554},{"ka":31.34,"u":0.568},
{"ka":31.67,"u":0.505},{"ka":31.58,"u":0.519},{"ka":31.68,"u":0.533},{"ka":31.6,"u":0.549},{"ka":31.66,"u":0.563},
{"ka":31.92,"u":0.51},{"ka":31.83,"u":0.524},{"ka":31.93,"u":0.538},{"ka":31.85,"u":0.552}
]},
"layer":[
{"data":{"name":"pts"},
 "mark":{"type":"point","shape":"circle","filled":false,"size":26,"strokeWidth":2.6,"opacity":1,"clip":false},
 "encoding":{
  "x":{"field":"ka","type":"quantitative","scale":{"domain":[0,40],"nice":false,"zero":false},
   "axis":{"title":"Ka","values":[0,10,20,30,40],"format":"d","grid":false,"labelFlush":false,"labelOverlap":false,"domainColor":"#868686","tickColor":"#868686","tickSize":5,"labelPadding":0,"labelFontSize":26,"labelColor":"black","labelFont":"Liberation Sans","titleFont":"Liberation Sans","titleFontSize":26,"titleFontWeight":"normal","titleColor":"black","titleBaseline":"alphabetic","titleY":68}},
  "y":{"field":"u","type":"quantitative","scale":{"domain":[0,0.6],"nice":false},
   "axis":{"title":"Umidade volumétrica - m³m⁻³","values":[0,0.1,0.2,0.3,0.4,0.5,0.6],"labelExpr":"replace(format(datum.value,'.1~f'),'.',',')","grid":false,"domainColor":"#868686","tickColor":"#868686","tickSize":5,"labelPadding":15,"labelFontSize":27,"labelColor":"black","labelFont":"Liberation Sans","titleFont":"Liberation Sans","titleFontSize":26,"titleFontWeight":"normal","titleColor":"black","titleX":-90,"titleY":268,"titleBaseline":"alphabetic"}},
  "color":{"datum":"SaTodos","type":"nominal","scale":{"domain":["SaTodos"],"range":["black"]},
   "legend":{"title":null,"orient":"none","legendX":636,"legendY":315,"padding":0,"labelFontSize":27,"labelFont":"Liberation Sans","labelColor":"black","symbolType":"circle","symbolSize":16,"symbolStrokeWidth":1,"symbolStrokeColor":"black","symbolFillColor":"white","symbolOpacity":1,"labelOffset":0}}
 }},
{"data":{"name":"fit"},"mark":{"type":"line","color":"#3c3c3c","strokeWidth":1,"interpolate":"monotone"},
 "encoding":{"x":{"field":"ka","type":"quantitative"},"y":{"field":"u","type":"quantitative"}}},
{"data":{"values":[{}]},"mark":{"type":"text","text":"y = -0,00043x² + 0,03033x","font":"Liberation Sans","fontSize":24,"align":"center","baseline":"alphabetic","color":"black"},
 "encoding":{"x":{"datum":28.37},"y":{"datum":0.1778}}},
{"data":{"values":[{}]},"mark":{"type":"text","text":"R² = 0,79638","font":"Liberation Sans","fontSize":24,"align":"center","baseline":"alphabetic","color":"black"},
 "encoding":{"x":{"datum":28.37},"y":{"datum":0.1459}}}
]
}
